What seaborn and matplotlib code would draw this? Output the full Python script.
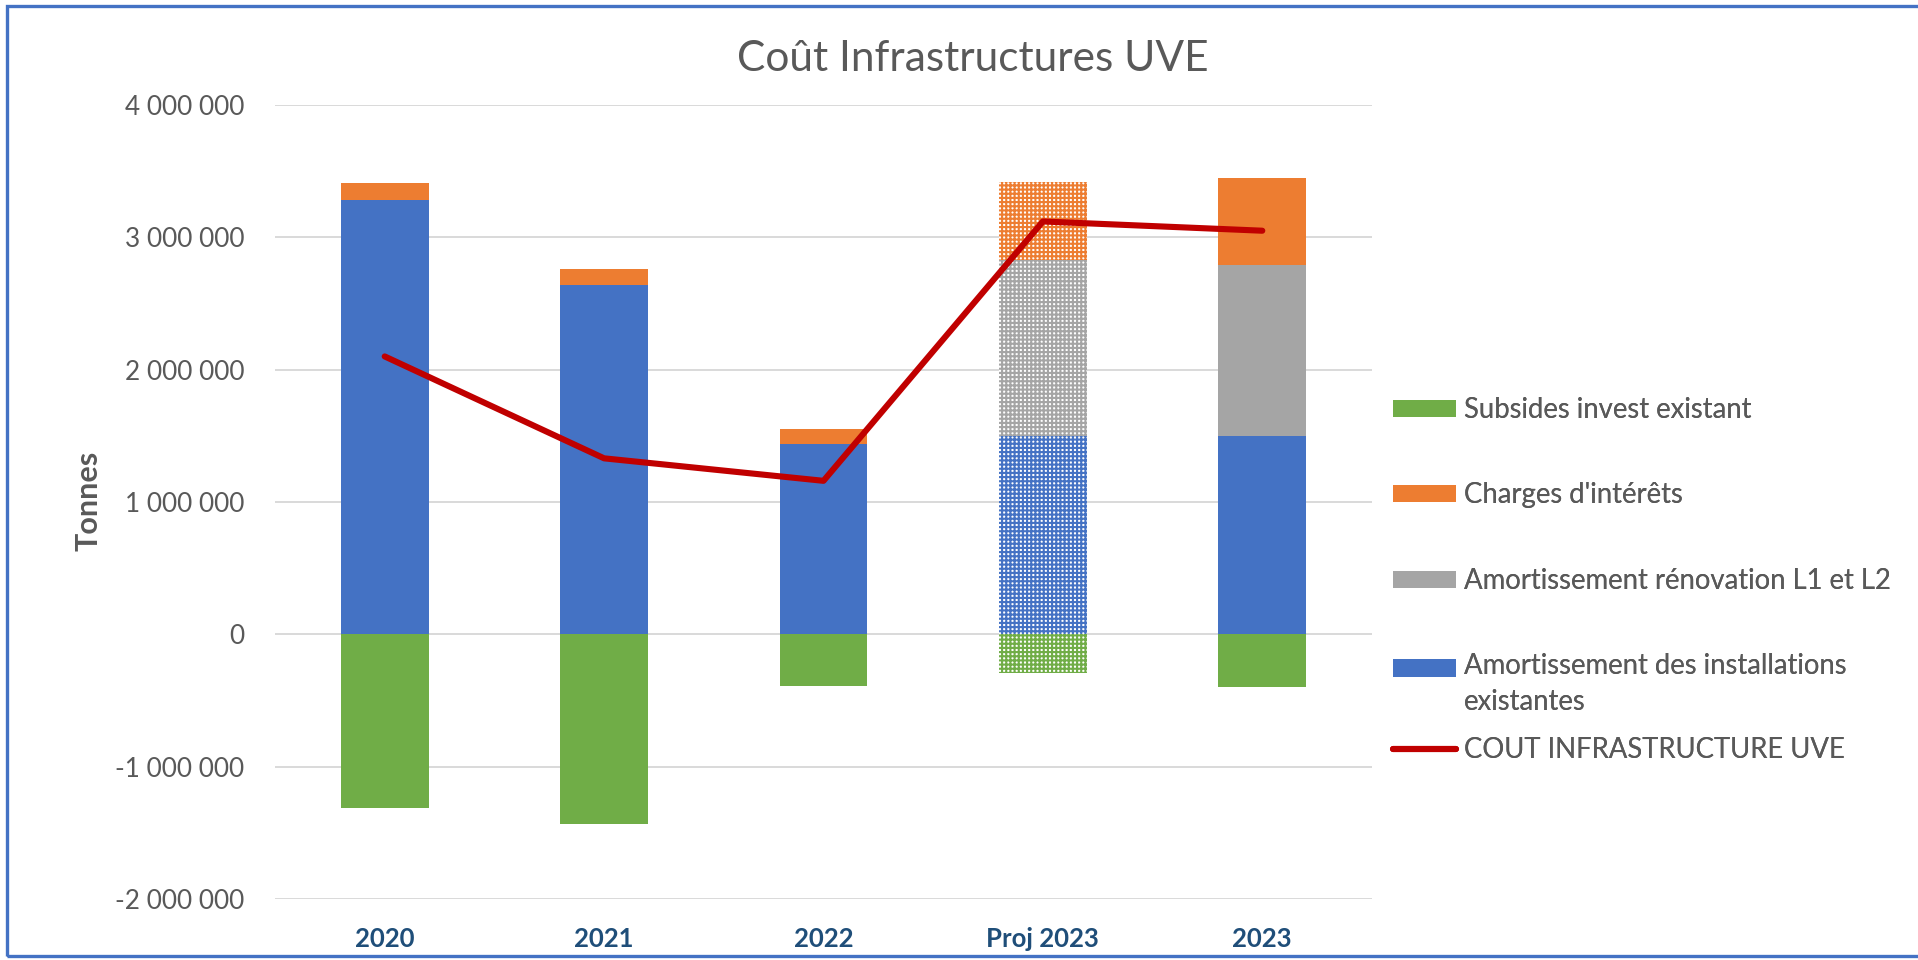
import numpy as np
import pandas as pd
import matplotlib
matplotlib.use("Agg")
import matplotlib.pyplot as plt
import seaborn as sns
from matplotlib.patches import Patch, Rectangle
from matplotlib.lines import Line2D
from matplotlib.ticker import FuncFormatter, MultipleLocator

# ---------------- data ----------------
categories = ["2020", "2021", "2022", "Proj 2023", "2023"]
amort_existantes = [3280000, 2640000, 1440000, 1500000, 1500000]
amort_renovation = [0, 0, 0, 1330000, 1290000]
charges_interets = [130000, 120000, 110000, 590000, 660000]
subsides = [-1310000, -1430000, -390000, -290000, -400000]
cout_total = [2100000, 1330000, 1160000, 3120000, 3050000]
projected = [False, False, False, True, False]

label_subsides = "Subsides invest existant"
label_interets = "Charges d'intérêts"
label_renov = "Amortissement rénovation L1 et L2"
label_existantes = "Amortissement des installations\nexistantes"
label_total = "COUT INFRASTRUCTURE UVE"
title = "Coût Infrastructures UVE"
ylabel = "Tonnes"

# ---------------- style ----------------
C_BLUE = "#4472C4"
C_ORANGE = "#ED7D31"
C_GREY = "#A5A5A5"
C_GREEN = "#70AD47"
C_RED = "#C00000"
C_TEXT = "#595959"
C_XTICK = "#1F4E79"
C_GRID = "#D9D9D9"

sns.set_theme(style="white")
plt.rcParams["font.family"] = ["Lato", "DejaVu Sans"]
plt.rcParams["hatch.linewidth"] = 1.5

fig = plt.figure(figsize=(19.18, 9.6), dpi=100)
fig.patch.set_facecolor("white")
ax = fig.add_axes([275 / 1918, 1 - 899 / 960, (1372 - 275) / 1918, (899 - 105) / 960])

df = pd.DataFrame({
    "cat": categories,
    "blue": amort_existantes,
    "grey": amort_renovation,
    "orange": charges_interets,
    "green": subsides,
})
df["lvl3"] = df["blue"] + df["grey"] + df["orange"]
df["lvl2"] = df["blue"] + df["grey"]
df["lvl1"] = df["blue"]

layers = [("lvl3", C_ORANGE), ("lvl2", C_GREY), ("lvl1", C_BLUE), ("green", C_GREEN)]
for col, color in layers:
    sns.barplot(data=df, x="cat", y=col, color=color, saturation=1, width=0.4,
                errorbar=None, linewidth=0, ax=ax, zorder=2)
    cont = ax.containers[-1]
    for patch, proj in zip(cont.patches, projected):
        if proj:
            patch.set_facecolor("white")
            patch.set_edgecolor(color)
            patch.set_hatch("++++")
            patch.set_linewidth(0)

sns.lineplot(x=np.arange(len(categories)), y=cout_total, color=C_RED, linewidth=4.4,
             ax=ax, zorder=5, legend=False, solid_capstyle="round",
             solid_joinstyle="round")

ax.set_xlim(-0.5, len(categories) - 0.5)
ax.set_ylim(-2000000, 4000000)
ax.yaxis.set_major_locator(MultipleLocator(1000000))


def fmt(v, pos):
    s = f"{abs(int(round(v))):,}".replace(",", " ")
    return ("-" + s) if v < 0 else s


ax.yaxis.set_major_formatter(FuncFormatter(fmt))
ax.set_xticks(range(len(categories)))
ax.set_xticklabels(categories)
ax.set_xlabel("")
ax.set_ylabel("")
ax.yaxis.grid(True, color=C_GRID, linewidth=1.4)
ax.xaxis.grid(False)
ax.set_axisbelow(True)
for s in ax.spines.values():
    s.set_visible(False)
ax.tick_params(axis="y", length=0, pad=22, labelsize=18.8, labelcolor=C_TEXT)
ax.tick_params(axis="x", length=0, pad=20, labelsize=18.5, labelcolor=C_XTICK)
for t in ax.get_xticklabels():
    t.set_fontweight("bold")

fig.text(973 / 1918, 1 - 59 / 960, title, ha="center", va="center",
         fontsize=30.5, color=C_TEXT)
fig.text(89 / 1918, 1 - 501 / 960, ylabel, ha="center", va="center",
         rotation=90, fontsize=22, fontweight="bold", color=C_TEXT)

# legend entries placed individually
entries = [
    (Patch(facecolor=C_GREEN, edgecolor="none"), label_subsides, 410, 0),
    (Patch(facecolor=C_ORANGE, edgecolor="none"), label_interets, 495, 0),
    (Patch(facecolor=C_GREY, edgecolor="none"), label_renov, 581, 0),
    (Patch(facecolor=C_BLUE, edgecolor="none"), label_existantes, 684, 12),
    (Line2D([0], [0], color=C_RED, linewidth=4.4, solid_capstyle="round"), label_total, 750, 0),
]
for h, lab, ypx, shift in entries:
    leg = fig.legend(handles=[h], labels=[lab], loc="center left",
                     bbox_to_anchor=(1393 / 1918, 1 - ypx / 960),
                     frameon=False, fontsize=19.8, labelcolor=C_TEXT,
                     handlelength=2.3, handleheight=0.6, handletextpad=0.28,
                     borderpad=0, borderaxespad=0)
    for t in leg.get_texts():
        t.set_linespacing(1.45)
    if shift:
        hp = leg.legend_handles[0]
        hp.set_y(hp.get_y() + shift)
    fig.add_artist(leg)

# outer border
fig.add_artist(Rectangle((7 / 1918, 4 / 960), 1.2, 1 - 10 / 960,
                         transform=fig.transFigure, fill=False,
                         edgecolor=C_BLUE, linewidth=2.4, clip_on=False))

fig.savefig("out.png", dpi=100, facecolor="white")
